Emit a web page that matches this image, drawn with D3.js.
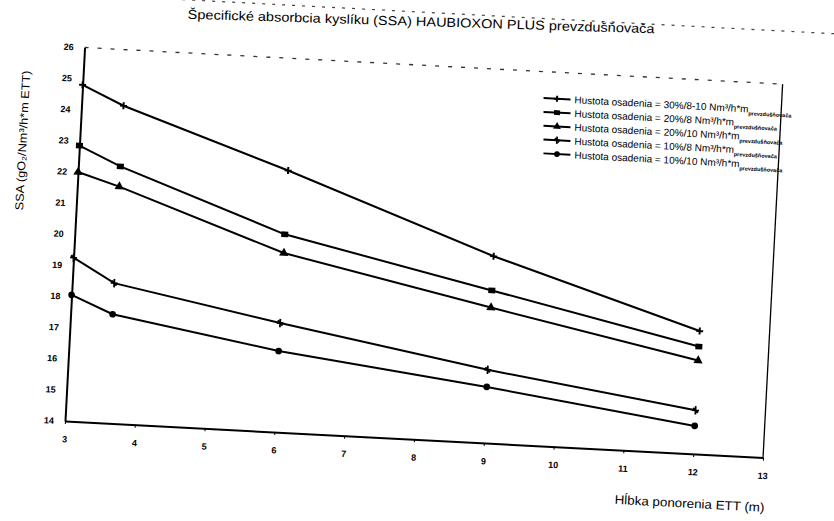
<!DOCTYPE html>
<html><head><meta charset="utf-8">
<script src="https://cdn.jsdelivr.net/npm/d3@7"></script>
<style>body{margin:0;background:#fff}svg{display:block}</style>
</head><body><svg id="c" width="834" height="521"></svg>
<script>
// ---- data ----
const depths = [3, 3.6, 6, 9, 12];
const xTicks = [3, 4, 5, 6, 7, 8, 9, 10, 11, 12, 13];
const yTicks = [14, 15, 16, 17, 18, 19, 20, 21, 22, 23, 24, 25, 26];
const seriesLabels = [
  "Hustota osadenia = 30%/8-10 Nm³/h*m",
  "Hustota osadenia = 20%/8 Nm³/h*m",
  "Hustota osadenia = 20%/10 Nm³/h*m",
  "Hustota osadenia = 10%/8 Nm³/h*m",
  "Hustota osadenia = 10%/10 Nm³/h*m"
];
const legendSub = "prevzdušňovača";
const ssa30_8_10 = [24.8, 24.2, 22.4, 20.0, 17.95];
const ssa20_8    = [22.85, 22.25, 20.35, 18.9, 17.45];
const ssa20_10   = [22.0, 21.6, 19.75, 18.35, 17.0];
const ssa10_8    = [19.25, 18.5, 17.5, 16.35, 15.4];
const ssa10_10   = [18.05, 17.5, 16.6, 15.8, 14.9];
const titleText = "Špecifické absorbcia kyslíku (SSA) HAUBIOXON PLUS prevzdušňovača";
const xTitle = "Hĺbka ponorenia ETT (m)";
const yTitle = "SSA (gO₂/Nm³/h*m ETT)";

const allSeries = [ssa30_8_10, ssa20_8, ssa20_10, ssa10_8, ssa10_10];
const markers = ["plus", "square", "triangle", "star", "circle"];

// ---- drawing ----
const svg = d3.select("#c");
const ox = 65, oy = 421, angle = 3;
const g = svg.append("g").attr("transform", `rotate(${angle},${ox},${oy})`);

const x = d3.scaleLinear().domain([3, 13]).range([65, 764]);
const y = d3.scaleLinear().domain([14, 26]).range([421, 47]);

// outer border (scan edge)
g.append("line").attr("x1", -60).attr("x2", 900).attr("y1", -6).attr("y2", -6)
  .attr("stroke", "#444").attr("stroke-width", 1.2).attr("stroke-dasharray", "3 7");

// plot frame: top dashed, right thin
g.append("line").attr("x1", x(3)).attr("x2", x(13)).attr("y1", y(26)).attr("y2", y(26))
  .attr("stroke", "#333").attr("stroke-width", 1.3).attr("stroke-dasharray", "4 9");
g.append("line").attr("x1", x(13)).attr("x2", x(13)).attr("y1", y(14)).attr("y2", y(26))
  .attr("stroke", "#000").attr("stroke-width", 1.3);

// axes
const xAxis = g.append("g").attr("transform", `translate(0,${y(14)})`)
  .call(d3.axisBottom(x).tickValues(xTicks).tickFormat(d3.format("d")).tickSize(3).tickSizeOuter(0).tickPadding(12));
const yAxis = g.append("g").attr("transform", `translate(${x(3)},0)`)
  .call(d3.axisLeft(y).tickValues(yTicks).tickFormat(d3.format("d")).tickSize(0).tickPadding(11));
[xAxis, yAxis].forEach(a => {
  a.select(".domain").attr("stroke", "#000").attr("stroke-width", 2);
  a.selectAll(".tick line").attr("stroke", "#000").attr("stroke-width", 1);
  a.selectAll(".tick text").attr("fill", "#000")
    .style("font-family", "'Liberation Sans', Arial, sans-serif")
    .style("font-size", "9px").style("font-weight", "bold");
});

// axis titles
g.append("text").attr("x", 768).attr("y", 475).attr("text-anchor", "end")
  .attr("textLength", 150).attr("lengthAdjust", "spacingAndGlyphs")
  .style("font-family", "'Liberation Sans', Arial, sans-serif").style("font-size", "12.5px")
  .text(xTitle);
g.append("text").attr("transform", "translate(12,143) rotate(-90)").attr("text-anchor", "middle")
  .attr("textLength", 140).attr("lengthAdjust", "spacingAndGlyphs")
  .style("font-family", "'Liberation Sans', Arial, sans-serif").style("font-size", "11.5px")
  .text(yTitle);

// marker drawer
function drawMarker(sel, type, size) {
  const s = size;
  if (type === "plus") {
    sel.append("path").attr("d", `M${-s},0H${s}M0,${-s}V${s}`).attr("stroke", "#000").attr("stroke-width", 2);
  } else if (type === "square") {
    sel.append("rect").attr("x", -s).attr("y", -s * 0.8).attr("width", 2 * s).attr("height", 1.6 * s).attr("fill", "#000");
  } else if (type === "triangle") {
    sel.append("path").attr("d", d3.symbol(d3.symbolTriangle, s * s * 3)()).attr("fill", "#000");
  } else if (type === "star") {
    sel.append("path").attr("d", `M${-s},0H${s}M0,${-s * 1.2}V${s * 1.2}M${-s * 0.7},${-s * 0.7}L${s * 0.7},${s * 0.7}`)
      .attr("stroke", "#000").attr("stroke-width", 1.8);
  } else {
    sel.append("circle").attr("r", s * 0.95).attr("fill", "#000");
  }
}

// series lines
const line = d3.line().x((d, i) => x(depths[i])).y(d => y(d));
allSeries.forEach((vals, si) => {
  g.append("path").datum(vals).attr("d", line).attr("fill", "none")
    .attr("stroke", "#000").attr("stroke-width", 2);
  vals.forEach((v, i) => {
    const m = g.append("g").attr("transform", `translate(${x(depths[i])},${y(v)})`);
    drawMarker(m, markers[si], 3.5);
  });
});

// legend
const leg = g.append("g").attr("transform", "translate(526,73.5)");
seriesLabels.forEach((lab, i) => {
  const row = leg.append("g").attr("transform", `translate(${i * 0.7},${i * 13.8})`);
  row.append("line").attr("x1", 0).attr("x2", 27).attr("y1", 0).attr("y2", 0)
    .attr("stroke", "#000").attr("stroke-width", 2);
  drawMarker(row.append("g").attr("transform", "translate(13.5,0)"), markers[i], 3);
  const t = row.append("text").attr("x", 31).attr("y", 3.5)
    .style("font-family", "'Liberation Sans', Arial, sans-serif").style("font-size", "10px").attr("fill", "#000");
  t.append("tspan").text(lab);
  t.append("tspan").attr("dy", 3).style("font-size", "5.5px").style("font-weight", "bold").text(legendSub);
});

// chart title
svg.append("text").attr("transform", "translate(421,26) rotate(1.8)").attr("text-anchor", "middle")
  .attr("textLength", 467).attr("lengthAdjust", "spacingAndGlyphs")
  .style("font-family", "'Liberation Sans', Arial, sans-serif").style("font-size", "13px")
  .text(titleText);
</script></body></html>
